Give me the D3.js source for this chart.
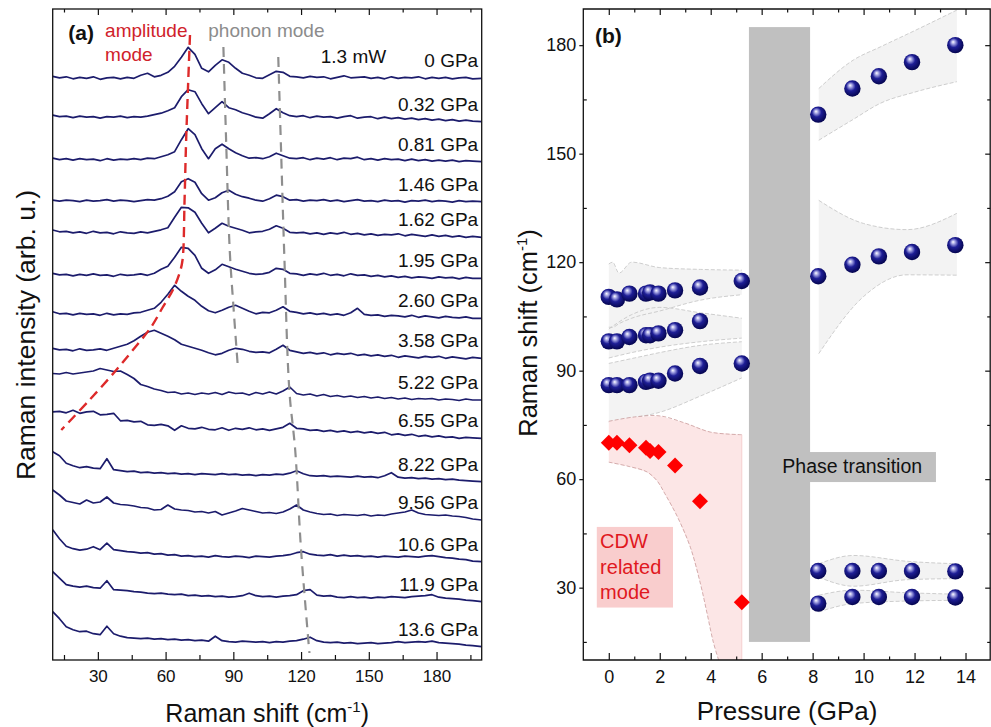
<!DOCTYPE html>
<html>
<head>
<meta charset="utf-8">
<script src="https://cdn.jsdelivr.net/npm/d3@7"></script>
<style>
  body { margin: 0; background: #fff; }
  svg { font-family: "Liberation Sans", Arial, sans-serif; }
</style>
</head>
<body>
<svg id="svg" width="991" height="727"></svg>
<script>
// ---------- panel (a): stacked Raman spectra ----------
var pressureLabels = ["0 GPa", "0.32 GPa", "0.81 GPa", "1.46 GPa", "1.62 GPa", "1.95 GPa", "2.60 GPa", "3.58 GPa",
                      "5.22 GPa", "6.55 GPa", "8.22 GPa", "9.56 GPa", "10.6 GPa", "11.9 GPa", "13.6 GPa"];
// vertical stacking offset of each spectrum (arb. u.)
var offsets = [58.17, 53.83, 49.83, 45.83, 42.27, 38.17, 34.17, 30.17, 26.0, 22.17, 17.83, 14.0, 9.83, 5.83, 1.33];

var shifts = [10, 13, 16, 19, 22, 25, 28, 31,
              34, 37, 40, 43, 46, 49, 52, 55,
              58, 61, 64, 67, 70, 73, 76, 79,
              82, 85, 88, 91, 94, 97, 100, 103,
              106, 109, 112, 115, 118, 121, 124, 127,
              130, 133, 136, 139, 142, 145, 148, 151,
              154, 157, 160, 163, 166, 169, 172, 175,
              178, 181, 184, 187, 190, 193, 196, 200];

var I_0 = [0.2, 0.05, 0.15, -0.05, 0.1, 0.0, 0.15, -0.1,
           0.05, 0.1, -0.05, 0.1, 0.0, 0.3, 0.5, 0.15,
           0.3, 0.6, 1.2, 2.1, 3.1, 2.4, 1.0, 0.65,
           1.3, 1.85, 1.6, 1.0, 0.5, 0.3, 0.05, 0.0,
           0.35, 0.7, 0.6, 0.2, 0.15, 0.05, 0.2, 0.1,
           0.15, -0.05, 0.1, 0.25, 0.05, 0.1, 0.15, 0.0,
           0.1, -0.05, 0.15, 0.0, 0.1, 0.05, 0.15, -0.05,
           0.1, 0.0, 0.1, -0.05, 0.05, 0.1, -0.05, 0.0];
var I_032 = [0.65, 0.5, 0.55, 0.4, 0.55, 0.45, 0.5, 0.35,
             0.5, 0.45, 0.55, 0.4, 0.5, 0.45, 0.55, 0.7,
             0.85, 1.1, 1.4, 2.5, 3.2, 3.0, 1.8, 0.8,
             1.4, 2.0, 1.4, 1.2, 0.9, 0.7, 0.45, 0.35,
             0.8, 1.3, 0.9, 0.6, 0.5, 0.6, 0.4, 0.55,
             0.45, 0.5, 0.35, 0.5, 0.6, 0.35, 0.45, 0.5,
             0.3, 0.45, 0.3, 0.4, 0.25, 0.35, 0.2, 0.3,
             0.15, 0.25, 0.1, 0.2, 0.05, 0.15, 0.05, 0.0];
var I_081 = [0.35, 0.2, 0.3, 0.15, 0.3, 0.2, 0.25, 0.1,
             0.3, 0.15, 0.25, 0.2, 0.3, 0.2, 0.35, 0.3,
             0.5, 0.7, 1.0, 2.2, 3.3, 2.7, 1.3, 0.3,
             1.3, 1.75, 1.3, 0.9, 0.6, 0.35, 0.4, 0.3,
             0.5, 0.85, 0.6, 0.35, 0.3, 0.4, 0.2, 0.35,
             0.25, 0.4, 0.2, 0.35, 0.3, 0.45, 0.2, 0.3,
             0.15, 0.3, 0.2, 0.25, 0.1, 0.25, 0.1, 0.2,
             0.05, 0.15, 0.05, 0.15, 0.0, 0.1, 0.05, 0.0];
var I_146 = [0.15, 0.05, 0.15, 0.1, 0.0, 0.15, 0.05, 0.1,
             0.2, 0.05, 0.15, 0.1, 0.0, 0.1, 0.2, 0.15,
             0.3, 0.55, 1.0, 2.0, 2.3, 1.95, 0.8, 0.15,
             0.4, 0.9, 1.15, 0.75, 0.5, 0.35, 0.15, 0.05,
             0.3, 0.65, 0.5, 0.15, 0.2, 0.05, 0.15, 0.1,
             0.2, 0.05, 0.15, 0.0, 0.1, 0.2, 0.05, 0.1,
             0.0, 0.15, 0.05, 0.1, -0.05, 0.1, 0.05, 0.15,
             0.0, 0.1, 0.05, -0.05, 0.1, 0.0, 0.05, 0.0];
var I_162 = [0.73, 0.55, 0.6, 0.45, 0.55, 0.4, 0.6, 0.45,
             0.5, 0.35, 0.55, 0.45, 0.4, 0.55, 0.45, 0.6,
             0.75, 0.95, 2.0, 3.0, 2.95, 2.5, 1.4, 0.45,
             0.9, 1.4, 1.1, 0.9, 0.7, 0.45, 0.55, 0.6,
             0.8, 1.15, 0.9, 0.5, 0.45, 0.5, 0.35, 0.45,
             0.3, 0.45, 0.35, 0.5, 0.3, 0.4, 0.25, 0.35,
             0.2, 0.3, 0.25, 0.35, 0.15, 0.3, 0.2, 0.1,
             0.25, 0.1, 0.2, 0.05, 0.15, 0.0, 0.1, 0.0];
var I_195 = [0.5, 0.35, 0.4, 0.25, 0.4, 0.3, 0.45, 0.3,
             0.35, 0.2, 0.4, 0.3, 0.35, 0.45, 0.3, 0.5,
             0.9, 1.2, 2.1, 3.1, 3.0, 2.3, 1.0, 0.5,
             0.85, 1.4, 1.15, 0.9, 0.7, 0.5, 0.4, 0.45,
             0.6, 1.0, 0.9, 0.5, 0.45, 0.3, 0.45, 0.35,
             0.5, 0.3, 0.4, 0.25, 0.45, 0.3, 0.35, 0.2,
             0.3, 0.15, 0.25, 0.1, 0.2, 0.05, 0.15, 0.1,
             0.0, 0.15, 0.05, 0.1, -0.05, 0.1, 0.0, 0.0];
var I_260 = [0.65, 0.45, 0.5, 0.35, 0.5, 0.4, 0.45, 0.3,
             0.5, 0.35, 0.45, 0.4, 0.55, 0.6, 0.8, 1.0,
             1.6, 2.4, 3.3, 2.7, 2.2, 1.8, 1.2, 0.75,
             0.55, 0.8, 1.1, 1.3, 1.0, 0.7, 0.45, 0.6,
             0.55, 0.8, 1.15, 0.7, 0.6, 0.45, 0.55, 0.4,
             0.5, 0.35, 0.45, 0.3, 0.55, 1.0, 0.4, 0.3,
             0.35, 0.2, 0.3, 0.25, 0.15, 0.3, 0.1, 0.25,
             0.15, 0.05, 0.2, 0.1, 0.05, 0.15, 0.0, 0.0];
var I_358 = [1.0, 0.85, 0.9, 0.75, 0.95, 0.8, 0.85, 0.95,
             0.8, 1.0, 1.2, 1.4, 1.75, 2.2, 2.6, 2.8,
             2.5, 2.2, 1.85, 1.4, 1.2, 1.0, 0.8, 0.55,
             0.35, 0.5, 0.8, 1.0, 0.9, 0.7, 0.6, 0.65,
             0.55, 0.9, 1.3, 0.8, 0.65, 0.5, 0.6, 0.45,
             0.55, 0.35, 0.5, 0.4, 0.5, 0.3, 0.4, 0.25,
             0.35, 0.2, 0.3, 0.1, 0.25, 0.15, 0.05, 0.2,
             0.1, 0.2, 0.0, 0.15, 0.05, -0.05, 0.1, 0.0];
var I_522 = [2.65, 2.6, 2.75, 2.6, 2.7, 2.8, 2.9, 3.15,
             3.0, 2.85, 2.9, 2.55, 2.15, 1.55, 1.35, 1.1,
             0.95, 0.75, 0.8, 0.6, 0.7, 0.55, 0.7, 0.6,
             0.75, 0.55, 0.8, 0.65, 0.7, 0.5, 0.75, 0.6,
             0.8, 0.6, 0.9, 1.3, 0.65, 0.5, 0.6, 0.4,
             0.55, 0.35, 0.45, 0.3, 0.4, 0.25, 0.35, 0.2,
             0.3, 0.15, 0.25, 0.1, 0.2, 0.05, 0.15, 0.1,
             0.15, 0.0, 0.1, 0.05, -0.05, 0.1, 0.0, 0.0];
var I_655 = [2.65, 2.7, 2.55, 2.8, 2.5, 2.65, 2.7, 2.35,
             2.4, 2.5, 1.75, 1.8, 1.65, 1.7, 1.35, 1.3,
             1.4, 1.25, 0.8, 1.25, 1.0, 0.95, 1.1, 0.9,
             0.85, 1.05, 0.8, 1.0, 0.9, 1.05, 0.85, 0.95,
             0.8, 0.95, 1.1, 1.5, 1.0, 0.95, 0.8, 0.85,
             0.7, 0.8, 0.65, 0.75, 0.6, 0.7, 0.55, 0.65,
             0.5, 0.6, 0.35, 0.45, 0.3, 0.4, 0.2, 0.3,
             0.15, 0.25, 0.1, 0.15, 0.0, 0.1, 0.05, 0.0];
var I_822 = [3.0, 2.6, 1.85, 1.6, 1.4, 1.5, 1.35, 1.3,
             2.3, 1.2, 1.1, 1.0, 1.05, 0.9, 0.95, 0.85,
             0.9, 0.8, 0.85, 0.75, 0.8, 0.7, 0.8, 0.75,
             0.7, 0.8, 0.7, 0.75, 0.65, 0.7, 0.6, 0.7,
             0.65, 0.75, 0.7, 0.85, 1.1, 0.8, 0.6, 0.55,
             0.6, 0.5, 0.55, 0.5, 0.45, 0.55, 0.45, 0.5,
             0.4, 0.6, 0.9, 0.45, 0.35, 0.4, 0.3, 0.35,
             0.25, 0.3, 0.2, 0.25, 0.15, 0.1, 0.05, 0.0];
var I_956 = [3.0, 2.5, 1.9, 1.75, 1.6, 2.0, 1.7, 1.8,
             2.3, 1.7, 1.55, 1.5, 1.4, 1.25, 1.2, 1.0,
             1.05, 1.5, 1.1, 1.0, 0.95, 0.8, 0.85, 0.7,
             0.85, 0.5, 0.7, 0.9, 1.15, 1.0, 0.85, 0.7,
             0.75, 0.65, 0.8, 1.1, 1.5, 1.0, 0.8, 0.65,
             0.55, 0.6, 0.45, 0.55, 0.5, 0.45, 0.55, 0.4,
             0.5, 0.45, 0.6, 0.7, 0.8, 1.0, 0.7, 0.55,
             0.5, 0.45, 0.5, 0.4, 0.35, 0.25, 0.1, 0.0];
var I_106 = [3.2, 2.3, 1.55, 1.3, 1.15, 1.25, 1.5, 1.2,
             1.85, 1.2, 1.1, 1.0, 0.95, 0.85, 0.9, 0.75,
             0.8, 0.65, 0.7, 0.55, 0.6, 0.5, 0.55, 0.45,
             0.6, 0.5, 0.45, 0.55, 0.5, 0.4, 0.55, 0.5,
             0.45, 0.55, 0.6, 0.7, 0.9, 1.0, 0.75, 0.65,
             0.6, 0.7, 0.55, 0.65, 0.55, 0.6, 0.5, 0.55,
             0.45, 0.55, 0.5, 0.45, 0.55, 0.5, 0.45, 0.55,
             0.6, 0.5, 0.4, 0.35, 0.25, 0.2, 0.05, 0.0];
var I_119 = [3.0, 2.35, 1.7, 1.55, 1.45, 1.55, 1.4, 1.35,
             2.1, 1.2, 1.15, 1.1, 1.0, 0.95, 0.85, 0.8,
             0.85, 0.75, 0.7, 0.75, 0.6, 0.65, 0.55, 0.6,
             0.5, 0.55, 0.45, 0.5, 0.6, 0.85, 0.6, 0.5,
             0.55, 0.45, 0.55, 0.6, 0.7, 1.1, 1.2, 0.65,
             0.55, 0.6, 0.45, 0.4, 0.5, 0.4, 0.45, 0.35,
             0.45, 0.4, 0.5, 0.45, 0.4, 0.5, 0.55, 0.6,
             0.7, 0.45, 0.35, 0.3, 0.25, 0.15, 0.1, 0.0];
var I_136 = [3.5, 2.8, 2.0, 1.7, 1.5, 1.55, 1.3, 1.2,
             2.05, 1.3, 1.05, 0.9, 0.85, 0.8, 0.85, 0.75,
             0.8, 0.7, 0.75, 0.65, 0.7, 0.6, 0.65, 0.55,
             1.05, 0.6, 0.5, 0.45, 0.55, 0.5, 0.45, 0.5,
             0.4, 0.5, 0.45, 0.55, 0.6, 0.75, 0.95, 0.6,
             0.45, 0.4, 0.45, 0.35, 0.4, 0.3, 0.35, 0.4,
             0.3, 0.35, 0.4, 0.5, 0.4, 0.45, 0.5, 0.45,
             0.55, 0.4, 0.35, 0.3, 0.25, 0.15, 0.1, 0.0];

var spectra = [I_0, I_032, I_081, I_146, I_162, I_195, I_260, I_358,
               I_522, I_655, I_822, I_956, I_106, I_119, I_136];

// guide lines (Raman shift, arb. u.)
var ampGuide = [[70.8, 62.5], [69.1, 52], [68.4, 46], [67.5, 40], [66.2, 38.7], [63.2, 37],
                [58.8, 35.3], [53.6, 33.3], [45.5, 31], [37.4, 28.8], [26.3, 26], [13.8, 23]];
var phonon1Guide = [[85.6, 61.3], [86.8, 52], [88.4, 41], [90, 35.5], [92, 29.3]];
var phonon2Guide = [[109.9, 60.3], [111.1, 51.3], [112.6, 40.3], [114.8, 27], [117.4, 21], [120, 11], [123.7, 0.7]];

// ---------- panel (b): mode frequencies vs pressure ----------
var pLow = [0, 0.32, 0.81, 1.46, 1.62, 1.95, 2.60, 3.58, 5.22];
var modeTop = [110.4, 109.7, 111.3, 111.3, 111.6, 111.3, 112.2, 113.0, 114.8];
var modeMid = [98.1, 98.1, 99.3, 99.8, 99.8, 100.3, 101.2, 103.7];
var modeLow = [86.0, 86.0, 86.0, 86.9, 87.2, 87.2, 89.2, 91.3, 92.0];
var cdwMode = [70.1, 70.1, 69.4, 68.7, 67.8, 67.5, 63.8, 53.9, 26.0];

var pHigh = [8.22, 9.56, 10.6, 11.9, 13.6];
var hpMode1 = [160.8, 168.0, 171.4, 175.3, 180.0];
var hpMode2 = [116.1, 119.3, 121.6, 122.8, 124.7];
var hpMode3 = [34.6, 34.6, 34.6, 34.6, 34.5];
var hpMode4 = [25.6, 27.4, 27.4, 27.4, 27.3];

// shaded guide bands: pressure, lower, upper
var band1P = [0, 0.15, 0.4, 0.9, 2, 3.6, 5.22];
var band1Lo = [102, 102, 103, 104.5, 106.5, 109.5, 111];
var band1Hi = [119.5, 120, 117, 120, 118.5, 118, 117.8];
var band2P = [0, 0.9, 2, 3.6, 5.22];
var band2Lo = [93.5, 95, 96.5, 98, 99];
var band2Hi = [101.5, 105.5, 107.5, 106, 104.5];
var band3P = [0, 1, 2, 3.6, 5.22];
var band3Lo = [75.8, 77, 78.5, 83, 88];
var band3Hi = [92, 93.5, 95, 97, 98];
var band4P = [8.24, 9.6, 10.65, 12, 13.66];
var band4Lo = [153.7, 159.5, 163.9, 167, 169.9];
var band4Hi = [168, 175.9, 179.5, 184, 189.7];
var band5P = [8.24, 10, 11.7, 13.66];
var band5Lo = [94.7, 110.5, 116.5, 116.4];
var band5Hi = [137.1, 130.7, 129, 133.5];
var band6P = [8.24, 9.6, 11.7, 13.66];
var band6Lo = [32.9, 30.4, 32.2, 32.5];
var band6Hi = [36.6, 38.9, 37.3, 36.6];
var band7P = [8.24, 9.6, 11.7, 13.66];
var band7Lo = [23.3, 25.6, 26.3, 26.5];
var band7Hi = [27.9, 29.3, 28.6, 28.2];

var cdwUpper = [[0, 76], [1, 77.2], [2, 77.5], [3, 75.5], [4, 73], [5.22, 72.3]];
var cdwLower = [[0, 64.7], [0.8, 63.5], [1.5, 62], [1.9, 59.5], [2.2, 56], [2.7, 49.5], [3.2, 41.2],
                [3.6, 31], [3.86, 22.8], [4.1, 15], [4.31, 10]];
var transition = [5.5, 7.9];     // pressure range of the phase transition
var transitionShift = [15, 185];

// ---------- layout ----------
var svg = d3.select("#svg");
var A = {left: 52.7, right: 481.7, top: 9, bottom: 660};
var B = {left: 583.3, right: 991, top: 9, bottom: 660};

var xa = d3.scaleLinear().domain([10, 200]).range([A.left, A.right]);
var ya = d3.scaleLinear().domain([0, 65.1]).range([A.bottom, A.top]);
var xb = d3.scaleLinear().domain([-1, 15]).range([B.left, B.right]);
var yb = d3.scaleLinear().domain([10, 190]).range([B.bottom, B.top]);

var defs = svg.append("defs");
defs.append("clipPath").attr("id", "clipA").append("rect")
  .attr("x", A.left).attr("y", A.top).attr("width", A.right - A.left).attr("height", A.bottom - A.top);
defs.append("clipPath").attr("id", "clipB").append("rect")
  .attr("x", B.left).attr("y", B.top).attr("width", B.right - B.left).attr("height", B.bottom - B.top);
var grad = defs.append("radialGradient").attr("id", "ball")
  .attr("cx", "45%").attr("cy", "42%").attr("r", "60%").attr("fx", "36%").attr("fy", "30%");
grad.append("stop").attr("offset", "0%").attr("stop-color", "#ffffff");
grad.append("stop").attr("offset", "18%").attr("stop-color", "#a9a9e6");
grad.append("stop").attr("offset", "48%").attr("stop-color", "#1e1e96");
grad.append("stop").attr("offset", "100%").attr("stop-color", "#03034a");

// ---------- panel (a) ----------
var panelA = function(){
  var g = svg.append("g").attr("clip-path", "url(#clipA)");
  var lineA = d3.line().x(function(d){ return xa(d[0]); }).y(function(d){ return ya(d[1]); });
  var guide = d3.line().x(function(d){ return xa(d[0]); }).y(function(d){ return ya(d[1]); })
    .curve(d3.curveCatmullRom);

  spectra.forEach(function(s, i){
    var pts = shifts.map(function(x, j){ return [x, offsets[i] + s[j]]; });
    g.append("path").attr("d", lineA(pts))
      .attr("fill", "none").attr("stroke", "#1c1c6c").attr("stroke-width", 1.7)
      .attr("stroke-linejoin", "round");
  });

  g.append("path").attr("d", guide(ampGuide)).attr("fill", "none")
    .attr("stroke", "#dd2a2a").attr("stroke-width", 2.4).attr("stroke-dasharray", "10,6");
  [phonon1Guide, phonon2Guide].forEach(function(d){
    g.append("path").attr("d", guide(d)).attr("fill", "none")
      .attr("stroke", "#8e8e8e").attr("stroke-width", 2.2).attr("stroke-dasharray", "10,7");
  });

  // pressure labels
  svg.selectAll("text.plab").data(pressureLabels).enter().append("text")
    .attr("class", "plab")
    .attr("x", xa(200) - 3.5)
    .attr("y", function(d, i){ return ya(offsets[i]) - 11; })
    .attr("text-anchor", "end").attr("font-size", 19).attr("fill", "#111")
    .text(function(d){ return d; });

  svg.append("text").attr("x", xa(16.9)).attr("y", ya(62.0))
    .attr("font-size", 21).attr("font-weight", "bold").attr("fill", "#111").text("(a)");
  svg.append("text").attr("x", xa(33.2)).attr("y", ya(62.35))
    .attr("font-size", 19).attr("fill", "#d0222a").text("amplitude");
  svg.append("text").attr("x", xa(33.2)).attr("y", ya(59.9))
    .attr("font-size", 19).attr("fill", "#d0222a").text("mode");
  svg.append("text").attr("x", xa(78.9)).attr("y", ya(62.3))
    .attr("font-size", 19).attr("fill", "#8c8c8c").text("phonon mode");
  svg.append("text").attr("x", xa(128.7)).attr("y", ya(59.73))
    .attr("font-size", 19).attr("fill", "#111").text("1.3 mW");

  // axes
  var major = [30, 60, 90, 120, 150, 180], minor = [15, 45, 75, 105, 135, 165, 195];
  var bottom = svg.append("g").attr("transform", "translate(0," + A.bottom + ")")
    .call(d3.axisBottom(xa).tickValues(major).tickSizeInner(-8).tickSizeOuter(0).tickPadding(10));
  bottom.append("g").call(d3.axisBottom(xa).tickValues(minor).tickSizeInner(-5).tickSizeOuter(0).tickFormat(""));
  var top = svg.append("g").attr("transform", "translate(0," + A.top + ")")
    .call(d3.axisTop(xa).tickValues(major).tickSizeInner(-6).tickSizeOuter(0).tickFormat(""));
  top.append("g").call(d3.axisTop(xa).tickValues(minor).tickSizeInner(-3.5).tickSizeOuter(0).tickFormat(""));
  [bottom, top].forEach(function(ax){
    ax.selectAll("path").remove();
    ax.selectAll("line").attr("stroke", "#111").attr("stroke-width", 1.2);
  });
  bottom.selectAll("text").attr("font-size", 17).attr("fill", "#111").attr("font-family", null);

  svg.append("rect").attr("x", A.left).attr("y", A.top)
    .attr("width", A.right - A.left).attr("height", A.bottom - A.top)
    .attr("fill", "none").attr("stroke", "#111").attr("stroke-width", 1.3);

  var xt = svg.append("text").attr("x", (A.left + A.right) / 2).attr("y", 721.7)
    .attr("text-anchor", "middle").attr("font-size", 25).attr("fill", "#111");
  xt.append("tspan").text("Raman shift (cm");
  xt.append("tspan").attr("font-size", 15).attr("dy", -10).text("-1");
  xt.append("tspan").attr("dy", 10).text(")");

  svg.append("text").attr("transform", "translate(35,335) rotate(-90)")
    .attr("text-anchor", "middle").attr("font-size", 26.5).attr("fill", "#111")
    .text("Raman intensity (arb. u.)");
};

// ---------- panel (b) ----------
var panelB = function(){
  var g = svg.append("g").attr("clip-path", "url(#clipB)");
  var bands = [[band1P, band1Lo, band1Hi], [band2P, band2Lo, band2Hi], [band3P, band3Lo, band3Hi],
               [band4P, band4Lo, band4Hi], [band5P, band5Lo, band5Hi], [band6P, band6Lo, band6Hi],
               [band7P, band7Lo, band7Hi]];
  var area = d3.area().curve(d3.curveMonotoneX)
    .x(function(d){ return xb(d[0]); }).y0(function(d){ return yb(d[1]); }).y1(function(d){ return yb(d[2]); });
  var edge = d3.line().curve(d3.curveMonotoneX)
    .x(function(d){ return xb(d[0]); }).y(function(d){ return yb(d[1]); });

  bands.forEach(function(b){
    var rows = b[0].map(function(p, i){ return [p, b[1][i], b[2][i]]; });
    g.append("path").attr("d", area(rows)).attr("fill", "#f3f3f3");
  });
  bands.forEach(function(b){
    [1, 2].forEach(function(k){
      var pts = b[0].map(function(p, i){ return [p, b[k][i]]; });
      g.append("path").attr("d", edge(pts)).attr("fill", "none")
        .attr("stroke", "#c3c3c3").attr("stroke-width", 0.8).attr("stroke-dasharray", "4,2");
    });
  });

  // CDW band
  var poly = cdwUpper.concat([[cdwUpper[cdwUpper.length - 1][0], 10]]).concat(cdwLower.slice().reverse());
  g.append("path").attr("d", d3.line().x(function(d){ return xb(d[0]); }).y(function(d){ return yb(d[1]); })(poly) + "Z")
    .attr("fill", "#fce6e6");
  var cedge = d3.line().curve(d3.curveCatmullRom)
    .x(function(d){ return xb(d[0]); }).y(function(d){ return yb(d[1]); });
  [cdwUpper, cdwLower].forEach(function(d){
    g.append("path").attr("d", cedge(d)).attr("fill", "none")
      .attr("stroke", "#c99a9a").attr("stroke-width", 0.8).attr("stroke-dasharray", "4,2");
  });
  g.append("line").attr("x1", xb(5.22)).attr("x2", xb(5.22)).attr("y1", yb(72.3)).attr("y2", yb(10))
    .attr("stroke", "#f6cfcf").attr("stroke-width", 1);

  // phase transition bar and label
  g.append("rect").attr("x", xb(transition[0])).attr("y", yb(transitionShift[1]))
    .attr("width", xb(transition[1]) - xb(transition[0]))
    .attr("height", yb(transitionShift[0]) - yb(transitionShift[1])).attr("fill", "#c0c0c0");
  g.append("rect").attr("x", xb(6.58)).attr("y", yb(67.5))
    .attr("width", xb(12.84) - xb(6.58)).attr("height", yb(59.2) - yb(67.5)).attr("fill", "#c0c0c0");
  svg.append("text").attr("x", xb(6.81)).attr("y", yb(61.7))
    .attr("font-size", 19.5).attr("fill", "#111").text("Phase transition");

  // CDW label
  svg.append("rect").attr("x", xb(-0.47)).attr("y", yb(46.8))
    .attr("width", xb(2.52) - xb(-0.47)).attr("height", yb(24.5) - yb(46.8)).attr("fill", "#f9cdcd");
  [["CDW", 40.9], ["related", 33.7], ["mode", 26.8]].forEach(function(t){
    svg.append("text").attr("x", xb(-0.34)).attr("y", yb(t[1]))
      .attr("font-size", 20).attr("fill", "#e0181e").text(t[0]);
  });

  // red diamonds
  var ds = 8;
  g.selectAll("path.cdw").data(pLow.map(function(p, i){ return [p, cdwMode[i]]; })).enter()
    .append("path").attr("class", "cdw")
    .attr("d", "M0," + (-ds) + "L" + ds + ",0L0," + ds + "L" + (-ds) + ",0Z")
    .attr("transform", function(d){ return "translate(" + xb(d[0]) + "," + yb(d[1]) + ")"; })
    .attr("fill", "#ff0000");

  // blue spheres
  var pts = [];
  [modeTop, modeMid, modeLow].forEach(function(m){
    m.forEach(function(v, i){ pts.push([pLow[i], v]); });
  });
  [hpMode1, hpMode2, hpMode3, hpMode4].forEach(function(m){
    m.forEach(function(v, i){ pts.push([pHigh[i], v]); });
  });
  g.selectAll("circle.ball").data(pts).enter().append("circle").attr("class", "ball")
    .attr("cx", function(d){ return xb(d[0]); })
    .attr("cy", function(d){ return yb(d[1]); })
    .attr("r", 8.2).attr("fill", "url(#ball)");

  svg.append("text").attr("x", xb(-0.54)).attr("y", yb(180.5))
    .attr("font-size", 21).attr("font-weight", "bold").attr("fill", "#111").text("(b)");

  // axes
  var xMajor = [0, 2, 4, 6, 8, 10, 12, 14], xMinor = [1, 3, 5, 7, 9, 11, 13];
  var yMajor = [30, 60, 90, 120, 150, 180], yMinor = [15, 45, 75, 105, 135, 165];
  var axes = [];
  var bottom = svg.append("g").attr("transform", "translate(0," + B.bottom + ")")
    .call(d3.axisBottom(xb).tickValues(xMajor).tickSizeInner(-7).tickSizeOuter(0).tickPadding(10));
  bottom.append("g").call(d3.axisBottom(xb).tickValues(xMinor).tickSizeInner(-3.5).tickSizeOuter(0).tickFormat(""));
  var top = svg.append("g").attr("transform", "translate(0," + B.top + ")")
    .call(d3.axisTop(xb).tickValues(xMajor).tickSizeInner(-6).tickSizeOuter(0).tickFormat(""));
  top.append("g").call(d3.axisTop(xb).tickValues(xMinor).tickSizeInner(-3.5).tickSizeOuter(0).tickFormat(""));
  var left = svg.append("g").attr("transform", "translate(" + B.left + ",0)")
    .call(d3.axisLeft(yb).tickValues(yMajor).tickSizeInner(4).tickSizeOuter(0).tickPadding(3));
  left.append("g").call(d3.axisLeft(yb).tickValues(yMinor).tickSizeInner(-3.5).tickSizeOuter(0).tickFormat(""));
  var right = svg.append("g").attr("transform", "translate(" + (B.right - 0.8) + ",0)")
    .call(d3.axisRight(yb).tickValues(yMajor).tickSizeInner(-5).tickSizeOuter(0).tickFormat(""));
  right.append("g").call(d3.axisRight(yb).tickValues(yMinor).tickSizeInner(-3).tickSizeOuter(0).tickFormat(""));
  axes.push(bottom, top, left, right);
  axes.forEach(function(ax){
    ax.selectAll("path").remove();
    ax.selectAll("line").attr("stroke", "#111").attr("stroke-width", 1.2);
    ax.selectAll("text").attr("font-size", 18).attr("fill", "#111").attr("font-family", null);
  });

  svg.append("path")
    .attr("d", "M" + B.left + "," + B.top + "H" + (B.right - 0.8) + "V" + B.bottom + "H" + B.left + "Z")
    .attr("fill", "none").attr("stroke", "#111").attr("stroke-width", 1.3);

  svg.append("text").attr("x", (B.left + B.right) / 2).attr("y", 720)
    .attr("text-anchor", "middle").attr("font-size", 26).attr("fill", "#111").text("Pressure (GPa)");

  var yt = svg.append("text").attr("transform", "translate(537,333) rotate(-90)")
    .attr("text-anchor", "middle").attr("font-size", 25.5).attr("fill", "#111");
  yt.append("tspan").text("Raman shift (cm");
  yt.append("tspan").attr("font-size", 15).attr("dy", -10).text("-1");
  yt.append("tspan").attr("dy", 10).text(")");
};

panelA();
panelB();
</script>
</body>
</html>
